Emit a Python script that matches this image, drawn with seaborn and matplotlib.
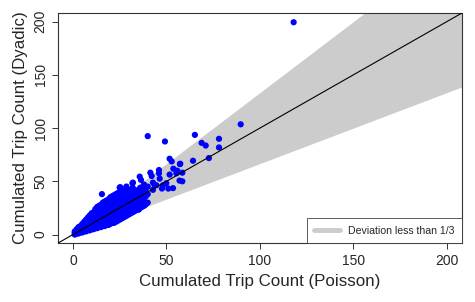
import numpy as np
import pandas as pd
import seaborn as sns
import matplotlib
matplotlib.use('Agg')
import matplotlib.pyplot as plt
from matplotlib.lines import Line2D

# dense blob near the origin, one row per poisson count
blob = {
    1: [0, 1, 2, 3],
    2: [1, 3, 5],
    3: [1, 3, 5, 7],
    4: [2, 4, 6, 8],
    5: [2, 5, 8, 10],
    6: [3, 6, 9, 12],
    7: [3, 6, 9, 12, 14],
    8: [4, 7, 10, 13, 16],
    9: [4, 8, 12, 15, 18],
    10: [5, 9, 13, 17, 20],
    11: [5, 9, 13, 17, 21],
    12: [6, 10, 14, 18, 22, 24],
    13: [6, 10, 15, 19, 23, 26],
    14: [7, 11, 16, 20, 24, 27],
    15: [7, 12, 17, 21, 25, 28],
    16: [8, 12, 17, 22, 26, 30],
    17: [8, 13, 18, 23, 27, 31],
    18: [9, 14, 19, 24, 28, 32],
    19: [9, 14, 20, 25, 30, 33],
    20: [10, 15, 21, 26, 31, 35],
    21: [11, 16, 22, 27, 32, 36],
    22: [11, 17, 22, 28, 33, 37],
    23: [12, 18, 23, 29, 34, 38],
    24: [13, 18, 24, 30, 35, 39],
    25: [14, 19, 25, 31, 36, 40],
    26: [15, 20, 26, 32, 37, 41],
    27: [16, 21, 27, 33, 39],
    28: [17, 22, 28, 34, 39, 43],
    29: [18, 23, 29, 35, 41],
    30: [19, 24, 30, 36, 42],
    31: [20, 25, 31, 37],
    32: [21, 26, 33, 39, 44],
    33: [22, 28, 34, 40],
    34: [23, 29, 35, 41],
    35: [24, 30, 36, 42],
    36: [25, 31, 38, 44],
    37: [26, 33, 40],
    38: [27, 34, 41, 47],
    39: [29, 36, 43],
    40: [30, 38, 45],
}

# sparser points further out
poisson_sparse = [15.5, 25, 25.3, 28.6, 31.8, 32.1, 35.7, 35.7, 36.4, 34.8, 38.3, 38.9,
                  39.3, 41.4, 42.1, 42.8, 42.8, 44.6, 46, 46, 46.4, 48.1, 49.9, 51, 53.5,
                  51.7, 51.7, 52.8, 55.3, 57, 58.5, 58.5, 57.4, 64.2, 72.7, 78.1, 71, 68.8,
                  78.1, 65.2, 49.2, 40, 89.7, 118, 35.1, 38.7, 43.7, 47.6, 53.7, 55.8, 57.2]
dyadic_sparse = [38, 44.1, 44.5, 45.1, 48.2, 48.8, 54.4, 33.9, 51.3, 27.7, 30.1, 28.3,
                 38.9, 58.1, 55, 48.8, 42, 46.3, 60.6, 57.5, 52.5, 46.3, 48.2, 43.2, 43.6,
                 71.2, 56.3, 68.7, 57.5, 50.7, 58.1, 50, 66.5, 69.3, 71.8, 81.8, 83.6, 86.1,
                 89.9, 93.6, 87.4, 92.4, 103.5, 199.3, 23.3, 28.3, 46.3, 43.2, 61.8, 60, 66.2]

poisson = [k for k, v in blob.items() for _ in v] + poisson_sparse
dyadic = [y for v in blob.values() for y in v] + dyadic_sparse
df = pd.DataFrame({'Poisson': poisson, 'Dyadic': dyadic})

sns.set_style('ticks')
plt.rcParams['font.family'] = ['Liberation Sans', 'DejaVu Sans']

fig = plt.figure(figsize=(4.75, 3.02), dpi=100)
ax = fig.add_axes([0.122, 0.195, 0.8506, 0.762])

lim = (-8, 208)
xs = np.array([0, 210])
ax.fill_between(xs, xs * 2 / 3, xs * 4 / 3, color='#cccccc', lw=0, zorder=1)

sns.scatterplot(data=df, x='Poisson', y='Dyadic', color='#0000ff', s=20,
                edgecolor='none', ax=ax, zorder=2)
ax.axline((0, 0), slope=1, color='black', lw=0.8, zorder=3)

ax.set_xlim(lim)
ax.set_ylim(lim)
ticks = [0, 50, 100, 150, 200]
ax.set_xticks(ticks)
ax.set_yticks(ticks)
ax.tick_params(labelsize=10, length=4, width=0.7, color='#333333')
for lab in ax.get_yticklabels():
    lab.set_rotation(90)
    lab.set_va('center')
for s in ax.spines.values():
    s.set_color('#333333')
    s.set_linewidth(0.8)
ax.set_xlabel('Cumulated Trip Count (Poisson)', fontsize=12.2, labelpad=5)
ax.set_ylabel('Cumulated Trip Count (Dyadic)', fontsize=12.2, labelpad=4)

handle = Line2D([], [], color='#cccccc', lw=3.5)
leg = ax.legend([handle], ['Deviation less than 1/3'], loc='lower right',
                fontsize=7.6, frameon=True, fancybox=False, borderaxespad=0,
                handlelength=2.4, borderpad=0.7)
leg.get_frame().set_edgecolor('#333333')
leg.get_frame().set_linewidth(0.7)

fig.savefig('out.png', dpi=100)
